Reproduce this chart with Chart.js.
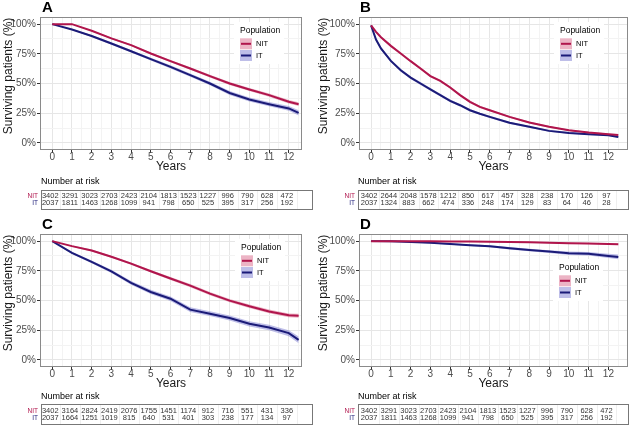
<!DOCTYPE html>
<html>
<head>
<meta charset="utf-8">
<script src="https://cdn.jsdelivr.net/npm/chart.js@4.4.0/dist/chart.umd.min.js"></script>
<style>
  body { margin: 0; background: #fff; }
  #wrap { position: relative; width: 630px; height: 431px; }
  canvas { position: absolute; }
</style>
</head>
<body>
<div id="wrap">
  <canvas id="cA" width="315" height="215" style="left:0;top:0"></canvas>
  <canvas id="cB" width="315" height="215" style="left:315px;top:0"></canvas>
  <canvas id="cC" width="315" height="216" style="left:0;top:215px"></canvas>
  <canvas id="cD" width="315" height="216" style="left:315px;top:215px"></canvas>
</div>
<script>
// --- datos ---
const years = [0, 1, 2, 3, 4, 5, 6, 7, 8, 9, 10, 11, 12, 12.5];
const yearsB = [0, 0.25, 0.5, 1, 1.5, 2, 2.5, 3, 3.5, 4, 4.5, 5, 5.5, 6, 7, 8, 9, 10, 11, 12, 12.5];

const xTicks = [0, 0.5, 1, 1.5, 2, 2.5, 3, 3.5, 4, 4.5, 5, 5.5, 6, 6.5, 7, 7.5, 8, 8.5, 9, 9.5, 10, 10.5, 11, 11.5, 12, 12.5];
const yTicks = [0, 12.5, 25, 37.5, 50, 62.5, 75, 87.5, 100];
const riskYears = [0, 1, 2, 3, 4, 5, 6, 7, 8, 9, 10, 11, 12];

// A
const nitA = [100, 100, 94.4, 88, 82.3, 75.3, 68.8, 62.6, 56.2, 50, 45, 40.2, 34.6, 32.6];
const nitA_ci = [0, 0.3, 0.5, 0.7, 0.8, 0.9, 1, 1.1, 1.1, 1.2, 1.3, 1.4, 1.5, 1.6];
const itA = [100, 95.5, 90, 83.7, 77.2, 70.5, 64, 57, 50, 42, 36.5, 32.6, 29, 25.3];
const itA_ci = [0, 0.5, 0.8, 1, 1.1, 1.2, 1.3, 1.4, 1.5, 1.6, 1.7, 1.8, 2, 2.2];

// B
const nitB = [99, 93.5, 89, 81.7, 75.3, 68.8, 62.6, 56.2, 52.2, 46.6, 40.2, 34.6, 30.3, 27.5, 21.9, 17.1, 13.5, 10.7, 8.7, 7.3, 6.7];
const nitB_ci = [0, 0.8, 0.8, 0.9, 0.9, 1, 1, 1, 1, 1, 1, 1, 0.9, 0.9, 0.8, 0.8, 0.7, 0.6, 0.6, 0.6, 0.6];
const itB = [99, 87, 79.5, 69, 61.2, 55, 50, 45, 40.2, 35.4, 31.7, 27.5, 24.5, 21.9, 16.9, 13.5, 10.1, 8.4, 7.3, 6.5, 5];
const itB_ci = [0, 1.2, 1.2, 1.2, 1.2, 1.2, 1.2, 1.2, 1.1, 1.1, 1, 1, 0.9, 0.9, 0.9, 0.8, 0.7, 0.7, 0.6, 0.6, 0.6];

// C
const nitC = [100, 95.8, 92.1, 86.8, 81.1, 74.6, 68.5, 62.5, 55.8, 49.9, 45.1, 40.8, 37.5, 37.2];
const nitC_ci = [0, 0.6, 0.8, 0.9, 1, 1.1, 1.2, 1.3, 1.4, 1.4, 1.5, 1.6, 1.6, 1.7];
const itC = [100, 90.1, 82.5, 74.6, 64.8, 57.2, 51.5, 42.3, 38.9, 35.2, 30.4, 27.3, 22.5, 16.9];
const itC_ci = [0, 0.9, 1.2, 1.4, 1.6, 1.8, 1.9, 2, 2, 2.1, 2.2, 2.3, 2.5, 2.8];

// D
const nitD = [100, 100, 100, 99.9, 99.7, 99.6, 99.5, 99.2, 99, 98.7, 98.3, 97.9, 97.5, 97.3];
const nitD_ci = [0, 0.1, 0.1, 0.2, 0.2, 0.3, 0.3, 0.4, 0.4, 0.4, 0.5, 0.5, 0.6, 0.6];
const itD = [100, 99.9, 99.2, 98.6, 97.5, 96.6, 95.7, 94, 92.5, 91.2, 89.8, 89.3, 87.5, 86.7];
const itD_ci = [0, 0.2, 0.4, 0.5, 0.6, 0.7, 0.8, 1, 1.1, 1.2, 1.4, 1.5, 1.8, 2];

// Numero en riesgo
const riskNitA = [3402, 3291, 3023, 2703, 2423, 2104, 1813, 1523, 1227, 996, 790, 628, 472];
const riskItA = [2037, 1811, 1463, 1268, 1099, 941, 798, 650, 525, 395, 317, 256, 192];
const riskNitB = [3402, 2644, 2048, 1578, 1212, 850, 617, 457, 328, 238, 170, 126, 97];
const riskItB = [2037, 1324, 883, 662, 474, 336, 248, 174, 129, 83, 64, 46, 28];
const riskNitC = [3402, 3164, 2824, 2419, 2076, 1755, 1451, 1174, 912, 716, 551, 431, 336];
const riskItC = [2037, 1664, 1251, 1019, 815, 640, 531, 401, 303, 238, 177, 134, 97];
const riskNitD = [3402, 3291, 3023, 2703, 2423, 2104, 1813, 1523, 1227, 996, 790, 628, 472];
const riskItD = [2037, 1811, 1463, 1268, 1099, 941, 798, 650, 525, 395, 317, 256, 192];

// --- estilos ---
const RED = '#B0154C';
const BLUE = '#1B1B78';
const RED_BAND = 'rgba(200, 40, 90, 0.35)';
const BLUE_BAND = 'rgba(70, 70, 190, 0.35)';
const FONT = '"Liberation Sans", Arial, sans-serif';

Chart.defaults.font.family = FONT;

function pts(xs, ys) { return xs.map((x, i) => ({ x: x, y: ys[i] })); }
function offs(xs, ys, ci, sign) { return xs.map((x, i) => ({ x: x, y: ys[i] + sign * ci[i] })); }

function lineSet(data, color) {
    return { data: data, borderColor: color, borderWidth: 2, pointRadius: 0, fill: false, tension: 0 };
}
function bandSet(data, color, target) {
    return { data: data, borderWidth: 0, borderColor: 'rgba(0,0,0,0)', pointRadius: 0,
             backgroundColor: color, fill: target, tension: 0 };
}

// Decoracion: borde, letra, leyenda, titulos y tabla de riesgo
function decorPlugin(p) {
    return {
        id: 'decor',
        afterDraw(chart) {
            const ctx = chart.ctx;
            const a = chart.chartArea;
            const xs = chart.scales.x;
            ctx.save();

            // borde del panel
            ctx.strokeStyle = '#8A8A8A';
            ctx.lineWidth = 1;
            ctx.strokeRect(Math.round(a.left) + 0.5, Math.round(a.top) + 0.5,
                           Math.round(a.right - a.left) - 1, Math.round(a.bottom - a.top) - 1);

            // letra
            ctx.fillStyle = '#000';
            ctx.font = 'bold 15px ' + FONT;
            ctx.textAlign = 'left';
            ctx.textBaseline = 'middle';
            ctx.fillText(p.letter, p.letterX, p.letterY);

            // titulo eje X
            ctx.textAlign = 'center';
            ctx.font = '12px ' + FONT;
            ctx.fillStyle = '#1A1A1A';
            ctx.fillText('Years', (a.left + a.right) / 2, a.bottom + 16.5);

            // titulo eje Y
            ctx.save();
            ctx.translate(p.yTitleX, p.yTitleY);
            ctx.rotate(-Math.PI / 2);
            ctx.fillText('Surviving patients (%)', 0, 0);
            ctx.restore();

            // leyenda
            const L = p.legend;
            ctx.fillStyle = '#fff';
            ctx.fillRect(L.x - 6, L.y - 9, 50, 42);
            ctx.fillStyle = '#000';
            ctx.font = '8.5px ' + FONT;
            ctx.textAlign = 'left';
            ctx.fillText('Population', L.x, L.y);
            const keys = [['NIT', RED, RED_BAND, 12.8], ['IT', BLUE, BLUE_BAND, 24.5]];
            keys.forEach(k => {
                const ky = L.y + k[3];
                ctx.fillStyle = k[2];
                ctx.fillRect(L.x, ky - 5.5, 12, 11);
                ctx.strokeStyle = k[1];
                ctx.lineWidth = 2;
                ctx.beginPath();
                ctx.moveTo(L.x + 1, ky);
                ctx.lineTo(L.x + 11, ky);
                ctx.stroke();
                ctx.fillStyle = '#000';
                ctx.font = '7.5px ' + FONT;
                ctx.fillText(k[0], L.x + 16, ky);
            });

            // tabla numero en riesgo
            const T = p.table;
            ctx.fillStyle = '#000';
            ctx.font = '9px ' + FONT;
            ctx.textAlign = 'left';
            ctx.fillText('Number at risk', T.left, T.titleY);

            ctx.strokeStyle = '#EFEFEF';
            ctx.lineWidth = 1;
            riskYears.forEach(v => {
                const gx = Math.round(xs.getPixelForValue(v + 0.5) + T.shift) + 0.5;
                ctx.beginPath();
                ctx.moveTo(gx, T.top);
                ctx.lineTo(gx, T.bottom);
                ctx.stroke();
            });
            ctx.strokeStyle = '#777';
            ctx.strokeRect(T.left + 0.5, T.top + 0.5, T.right - T.left, T.bottom - T.top);

            ctx.font = '6.5px ' + FONT;
            ctx.textAlign = 'right';
            ctx.fillStyle = RED;
            ctx.fillText('NIT', T.left - 3, T.row1);
            ctx.fillStyle = BLUE;
            ctx.fillText('IT', T.left - 3, T.row2);

            ctx.font = '7.5px ' + FONT;
            ctx.textAlign = 'center';
            ctx.fillStyle = '#333';
            riskYears.forEach((v, i) => {
                const tx = xs.getPixelForValue(v) + T.shift;
                ctx.fillText(String(p.riskNit[i]), tx, T.row1);
                ctx.fillText(String(p.riskIt[i]), tx, T.row2);
            });
            ctx.restore();
        }
    };
}

function makePanel(id, p) {
    const canvas = document.getElementById(id);
    const W = canvas.width, H = canvas.height;
    const xAxisH = 22;
    new Chart(canvas, {
        type: 'line',
        data: {
            datasets: [
                lineSet(pts(p.years, p.nit), RED),
                lineSet(pts(p.years, p.it), BLUE),
                bandSet(offs(p.years, p.nit, p.nitCi, -1), RED_BAND, false),
                bandSet(offs(p.years, p.nit, p.nitCi, 1), RED_BAND, 2),
                bandSet(offs(p.years, p.it, p.itCi, -1), BLUE_BAND, false),
                bandSet(offs(p.years, p.it, p.itCi, 1), BLUE_BAND, 4)
            ]
        },
        options: {
            responsive: false,
            animation: false,
            events: [],
            layout: { padding: { left: 0, right: W - p.right, top: p.top, bottom: H - p.bottom - xAxisH } },
            plugins: { legend: { display: false }, tooltip: { enabled: false } },
            scales: {
                x: {
                    type: 'linear',
                    min: p.xMin,
                    max: p.xMax,
                    afterBuildTicks: s => { s.ticks = xTicks.map(v => ({ value: v })); },
                    afterFit: s => { s.height = xAxisH; },
                    ticks: {
                        autoSkip: false, maxRotation: 0, padding: -2,
                        color: '#4D4D4D', font: { size: 10 },
                        callback: v => Number.isInteger(v) ? String(v) : ''
                    },
                    grid: {
                        color: c => (c.tick && Number.isInteger(c.tick.value)) ? '#E6E6E6' : '#F3F3F3',
                        tickColor: c => (c.tick && Number.isInteger(c.tick.value)) ? '#333' : 'rgba(0,0,0,0)',
                        tickLength: 3
                    },
                    border: { display: false }
                },
                y: {
                    min: -6,
                    max: 106,
                    afterBuildTicks: s => { s.ticks = yTicks.map(v => ({ value: v })); },
                    afterFit: s => { s.width = p.left; },
                    ticks: {
                        padding: 1, color: '#4D4D4D', font: { size: 10 },
                        callback: v => (v % 25 === 0) ? v + '%' : ''
                    },
                    grid: {
                        color: c => (c.tick && c.tick.value % 25 === 0) ? '#E6E6E6' : '#F3F3F3',
                        tickColor: c => (c.tick && c.tick.value % 25 === 0) ? '#333' : 'rgba(0,0,0,0)',
                        tickLength: 3
                    },
                    border: { display: false }
                }
            }
        },
        plugins: [decorPlugin(p)]
    });
}

// --- paneles ---
makePanel('cA', {
    letter: 'A', letterX: 42, letterY: 8,
    left: 40, right: 302, top: 17, bottom: 150, xMin: -0.62, xMax: 12.67,
    years: years, nit: nitA, nitCi: nitA_ci, it: itA, itCi: itA_ci,
    riskNit: riskNitA, riskIt: riskItA,
    yTitleX: 9, yTitleY: 76,
    legend: { x: 240, y: 31 },
    table: { left: 41, right: 312, top: 190, bottom: 209, titleY: 182, row1: 196, row2: 203, shift: -2 }
});
makePanel('cB', {
    letter: 'B', letterX: 45, letterY: 8,
    left: 44, right: 313, top: 17, bottom: 150, xMin: -0.61, xMax: 12.99,
    years: yearsB, nit: nitB, nitCi: nitB_ci, it: itB, itCi: itB_ci,
    riskNit: riskNitB, riskIt: riskItB,
    yTitleX: 9, yTitleY: 76,
    legend: { x: 245, y: 31 },
    table: { left: 43, right: 313, top: 190, bottom: 209, titleY: 182, row1: 196, row2: 203, shift: -2 }
});
makePanel('cC', {
    letter: 'C', letterX: 42, letterY: 10,
    left: 40, right: 302, top: 19, bottom: 152, xMin: -0.62, xMax: 12.67,
    years: years, nit: nitC, nitCi: nitC_ci, it: itC, itCi: itC_ci,
    riskNit: riskNitC, riskIt: riskItC,
    yTitleX: 9, yTitleY: 78,
    legend: { x: 241, y: 33 },
    table: { left: 41, right: 312, top: 189, bottom: 209, titleY: 182, row1: 196, row2: 203, shift: -2 }
});
makePanel('cD', {
    letter: 'D', letterX: 45, letterY: 10,
    left: 44, right: 313, top: 19, bottom: 152, xMin: -0.61, xMax: 12.99,
    years: years, nit: nitD, nitCi: nitD_ci, it: itD, itCi: itD_ci,
    riskNit: riskNitD, riskIt: riskItD,
    yTitleX: 9, yTitleY: 78,
    legend: { x: 244, y: 53 },
    table: { left: 43, right: 313, top: 189, bottom: 209, titleY: 182, row1: 196, row2: 203, shift: -2 }
});
</script>
</body>
</html>
